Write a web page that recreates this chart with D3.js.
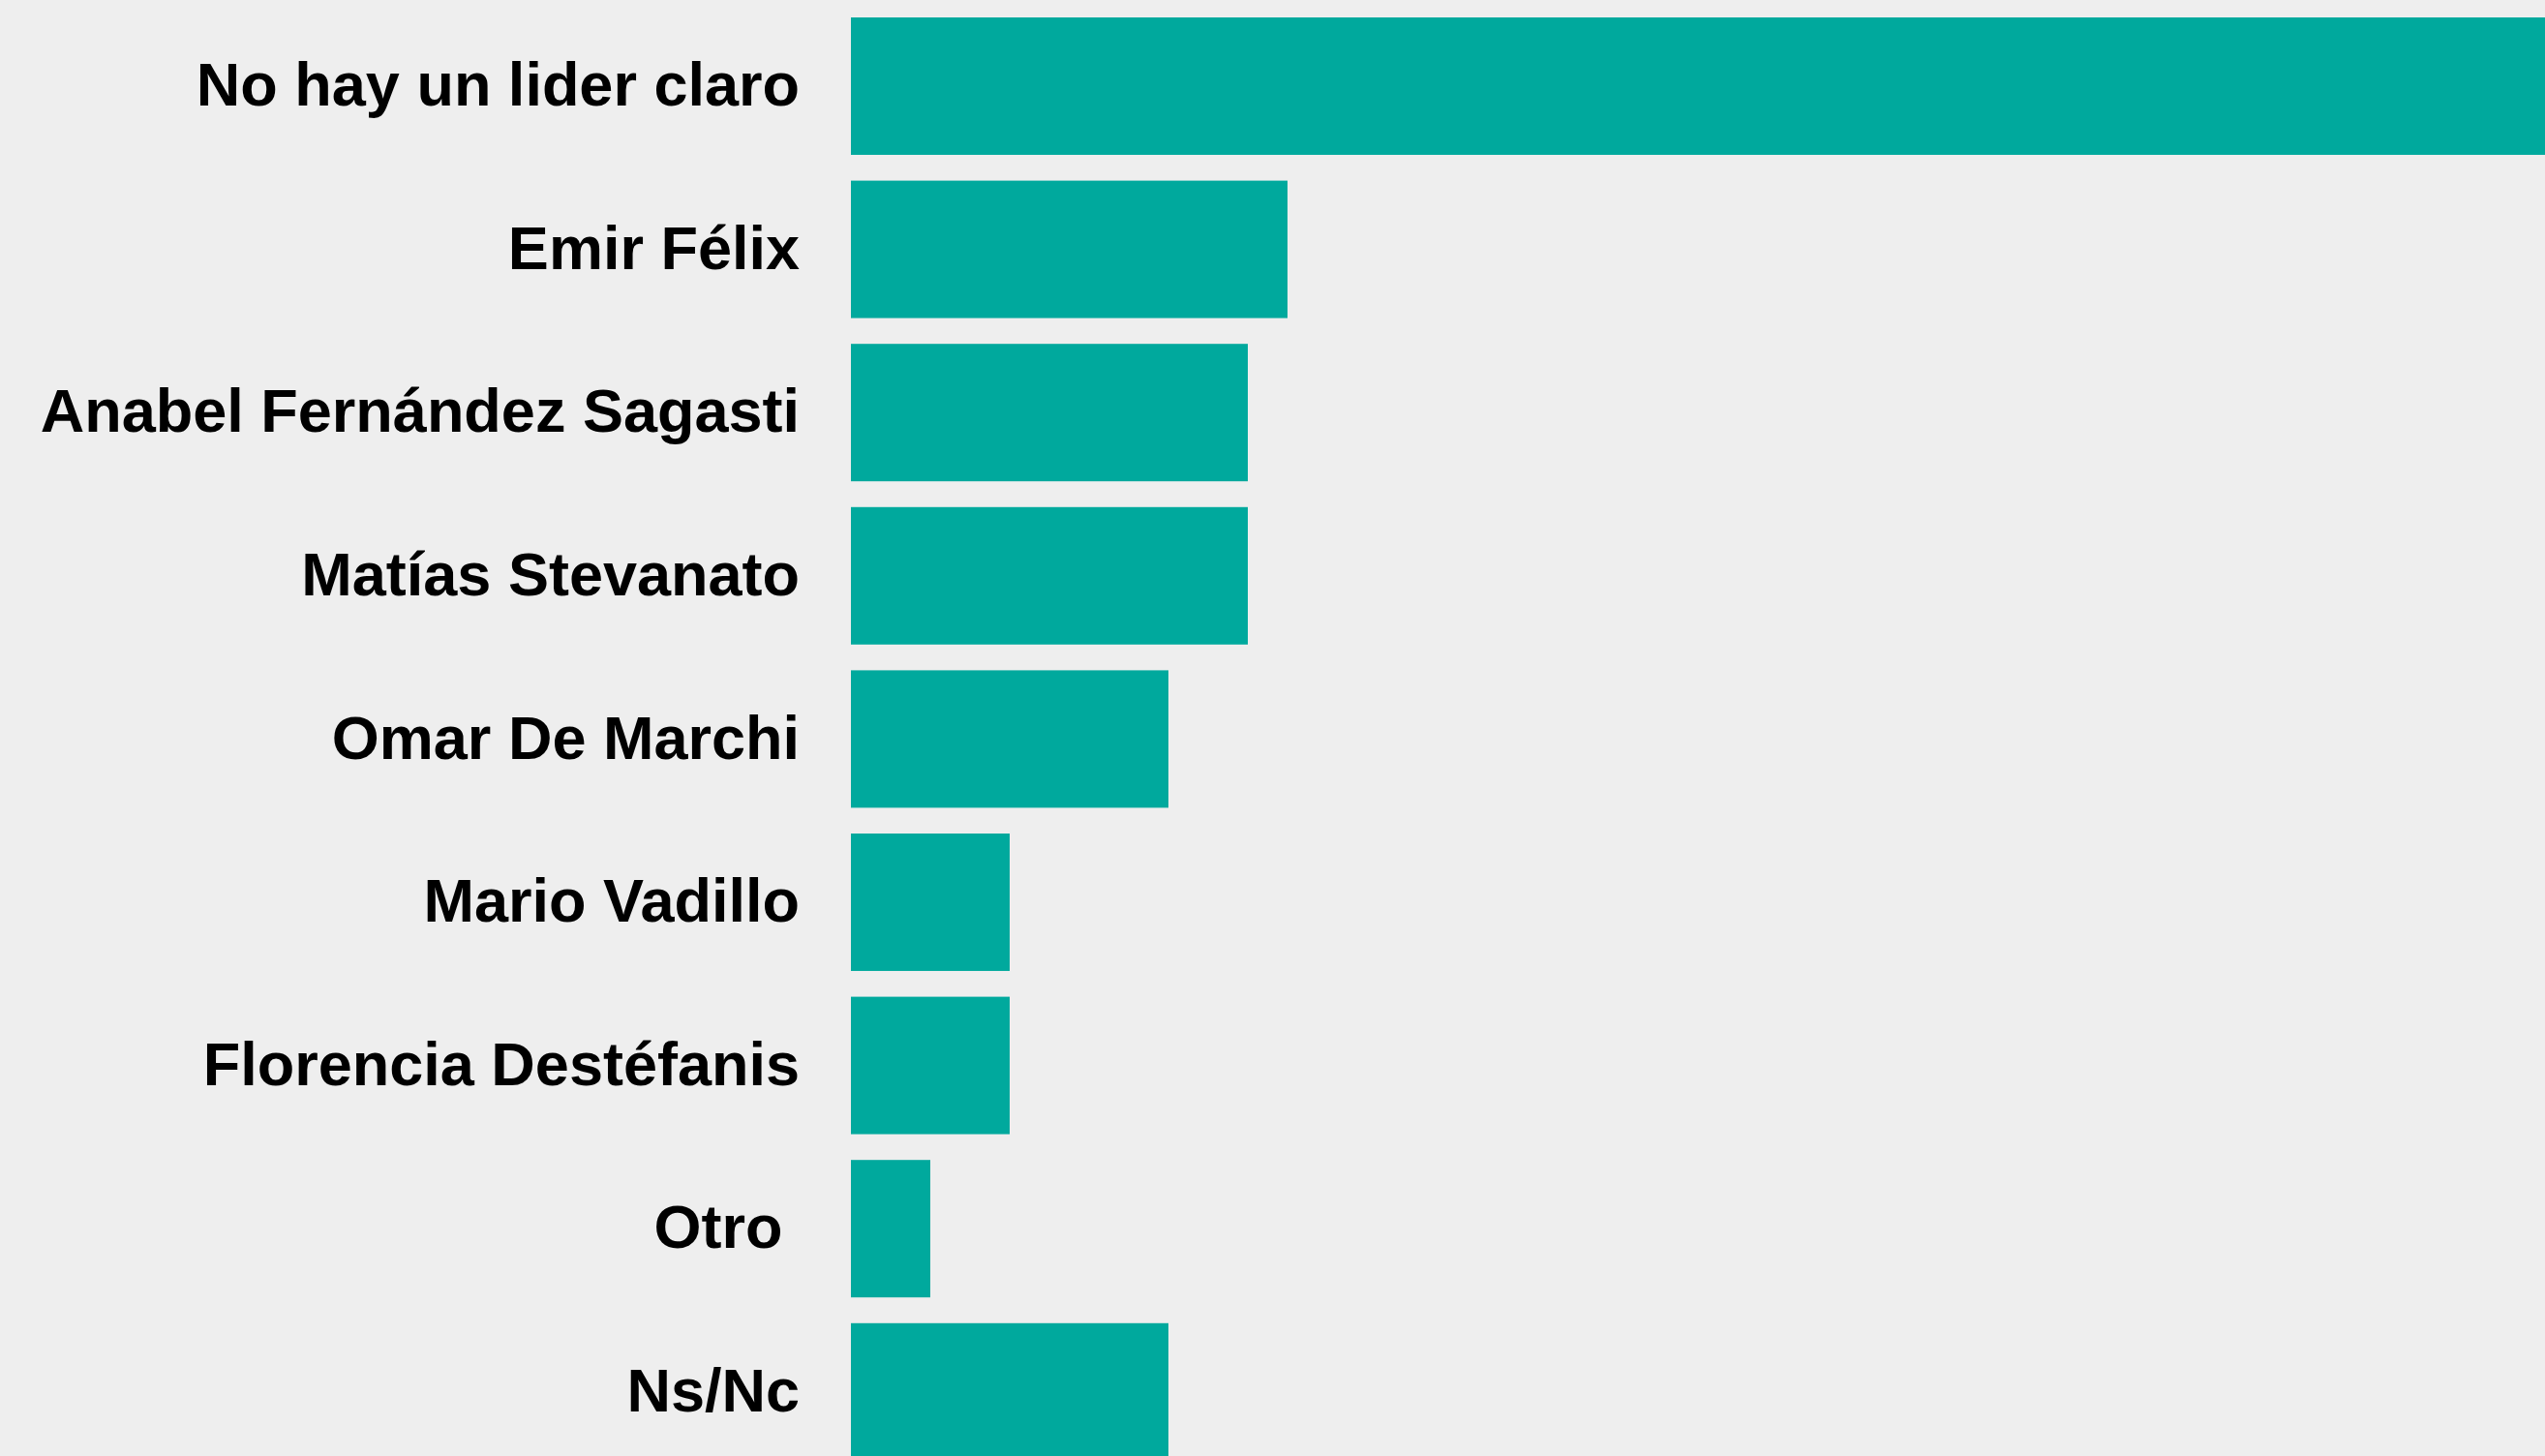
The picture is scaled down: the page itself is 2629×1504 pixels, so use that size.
<!DOCTYPE html>
<html>
<head>
<meta charset="utf-8">
<script src="https://cdnjs.cloudflare.com/ajax/libs/d3/7.8.5/d3.min.js"></script>
<style>
  html, body { margin: 0; padding: 0; background: #eeeeee; overflow: hidden; }
  svg { display: block; }
</style>
</head>
<body>
<div id="chart"></div>
<script>
var categories = [
  'No hay un lider claro',
  'Emir Félix',
  'Anabel Fernández Sagasti',
  'Matías Stevanato',
  'Omar De Marchi',
  'Mario Vadillo',
  'Florencia Destéfanis',
  'Otro ',
  'Ns/Nc'
];
var values = [43, 11, 10, 10, 8, 4, 4, 2, 8];

var WIDTH = 2629, HEIGHT = 1504;
var BAR_LEFT = 879;

var data = categories.map(function(c, i) { return { name: c, value: values[i] }; });

var svg = d3.select('#chart').append('svg')
  .attr('width', WIDTH)
  .attr('height', HEIGHT);

svg.append('rect')
  .attr('width', WIDTH)
  .attr('height', HEIGHT)
  .attr('fill', '#eeeeee');

var x = d3.scaleLinear()
  .domain([0, 100])
  .range([BAR_LEFT, BAR_LEFT + 4100]);

var step = 168.6, pad = 0.158;
var y0 = 18 - step * pad / 2;
var y = d3.scaleBand()
  .domain(categories)
  .range([y0, y0 + step * categories.length])
  .paddingInner(pad)
  .paddingOuter(pad / 2);

svg.append('g').selectAll('rect')
  .data(data)
  .enter().append('rect')
  .attr('x', x(0))
  .attr('y', function(d) { return y(d.name); })
  .attr('width', function(d) { return x(d.value) - x(0); })
  .attr('height', y.bandwidth())
  .attr('fill', '#00a99d');

// labels sit left of the bars, no axis line
var yAxis = d3.axisLeft(y).tickSize(0).tickPadding(53);
var ax = svg.append('g')
  .attr('transform', 'translate(' + x(0) + ',0)')
  .call(yAxis);
ax.select('.domain').remove();
ax.selectAll('text')
  .attr('fill', '#000')
  .attr('dy', '0.32em')
  .style('font-family', '"Liberation Sans", Arial, sans-serif')
  .style('font-weight', 'bold')
  .style('font-size', '63px')
  .style('white-space', 'pre');
</script>
</body>
</html>
